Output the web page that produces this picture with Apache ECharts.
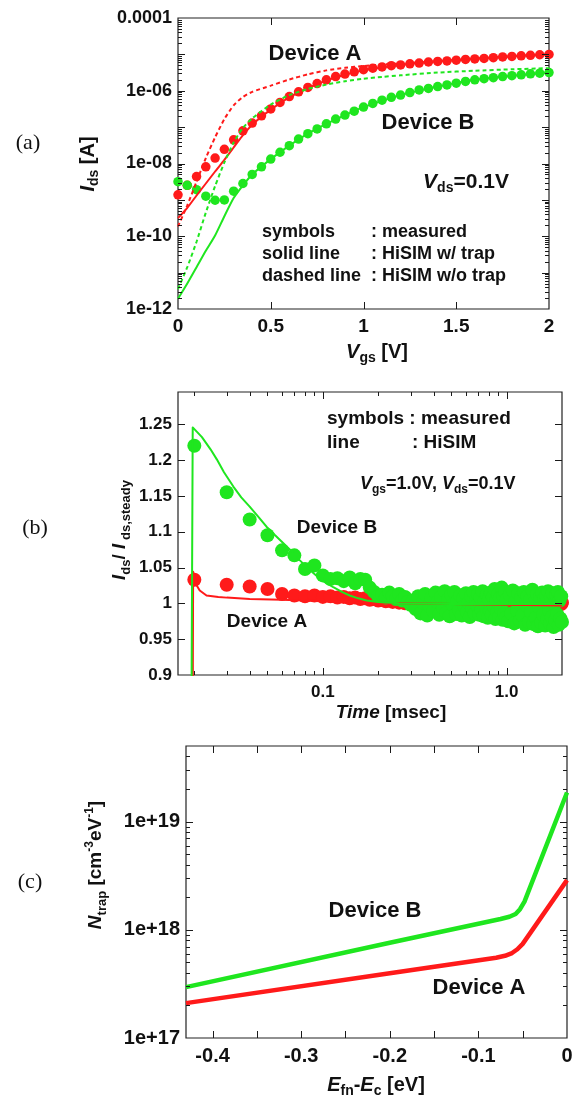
<!DOCTYPE html>
<html>
<head>
<meta charset="utf-8">
<script src="https://cdn.jsdelivr.net/npm/echarts@6/dist/echarts.min.js"></script>
<style>
  html, body { margin: 0; padding: 0; background: #fff; }
  #chart { width: 583px; height: 1097px; }
</style>
</head>
<body>
<div id="chart"></div>
<script>
// ---------- (a) Ids-Vgs characteristics, Vds = 0.1 V ----------
const vgsMeas = [0, 0.05, 0.1, 0.15, 0.2, 0.25, 0.3, 0.35, 0.4, 0.45, 0.5, 0.55, 0.6, 0.65, 0.7, 0.75,
  0.8, 0.85, 0.9, 0.95, 1.0, 1.05, 1.1, 1.15, 1.2, 1.25, 1.3, 1.35, 1.4, 1.45, 1.5, 1.55, 1.6, 1.65,
  1.7, 1.75, 1.8, 1.85, 1.9, 1.95, 2.0];
const idsMeasA = [1.38e-9, 2.51e-9, 4.37e-9, 8.13e-9, 1.41e-8, 2.45e-8, 4.47e-8, 7.94e-8, 1.29e-7,
  2.04e-7, 3.16e-7, 4.79e-7, 6.92e-7, 9.33e-7, 1.23e-6, 1.58e-6, 2.0e-6, 2.45e-6, 2.88e-6, 3.31e-6,
  3.80e-6, 4.17e-6, 4.52e-6, 4.90e-6, 5.13e-6, 5.50e-6, 5.75e-6, 6.17e-6, 6.38e-6, 6.61e-6, 6.92e-6,
  7.24e-6, 7.50e-6, 7.76e-6, 8.13e-6, 8.51e-6, 8.81e-6, 9.12e-6, 9.44e-6, 9.77e-6, 1.0e-5];
const idsMeasB = [3.16e-9, 2.51e-9, 1.91e-9, 1.26e-9, 9.77e-10, 1.0e-9, 1.74e-9, 2.82e-9, 5.01e-9,
  8.13e-9, 1.32e-8, 2.04e-8, 3.09e-8, 4.68e-8, 6.61e-8, 8.91e-8, 1.23e-7, 1.66e-7, 2.14e-7, 2.75e-7,
  3.55e-7, 4.47e-7, 5.50e-7, 6.61e-7, 7.59e-7, 8.91e-7, 1.05e-6, 1.16e-6, 1.30e-6, 1.45e-6, 1.62e-6,
  1.80e-6, 2.0e-6, 2.14e-6, 2.29e-6, 2.45e-6, 2.60e-6, 2.75e-6, 2.92e-6, 3.05e-6, 3.16e-6];

// HiSIM with trap (solid)
const vgsTrap = [0, 0.05, 0.1, 0.15, 0.2, 0.25, 0.3, 0.35, 0.4, 0.5, 0.6, 0.7, 0.8, 0.9, 1.0, 1.2, 1.4, 1.6, 1.8, 2.0];
const idsTrapA = [3.16e-10, 6.03e-10, 1.32e-9, 2.82e-9, 6.03e-9, 1.26e-8, 2.75e-8, 6.03e-8, 1.17e-7,
  3.02e-7, 6.61e-7, 1.17e-6, 1.91e-6, 2.75e-6, 3.63e-6, 5.13e-6, 6.46e-6, 7.59e-6, 8.91e-6, 1.0e-5];
const idsTrapB = [1.91e-12, 5.01e-12, 1.41e-11, 3.98e-11, 1.05e-10, 3.55e-10, 1.12e-9, 2.51e-9, 5.01e-9,
  1.32e-8, 3.09e-8, 6.61e-8, 1.23e-7, 2.14e-7, 3.55e-7, 7.59e-7, 1.30e-6, 2.0e-6, 2.60e-6, 3.16e-6];

// HiSIM without trap (dashed)
const vgsNoTrap = [0, 0.05, 0.1, 0.15, 0.2, 0.25, 0.3, 0.35, 0.4, 0.5, 0.6, 0.7, 0.8, 0.9, 1.0, 1.1, 1.2, 1.4, 1.6, 1.8, 2.0];
const idsNoTrapA = [1.86e-10, 7.08e-10, 3.16e-9, 1.41e-8, 5.25e-8, 1.66e-7, 3.98e-7, 6.76e-7, 9.33e-7,
  1.38e-6, 2.04e-6, 2.82e-6, 3.63e-6, 4.27e-6, 4.79e-6, 5.25e-6, 5.62e-6, 6.46e-6, 7.59e-6, 8.81e-6, 1.0e-5];
const idsNoTrapB = [3.55e-12, 1.41e-11, 7.08e-11, 4.47e-10, 2.40e-9, 1.07e-8, 3.80e-8, 9.55e-8, 1.74e-7,
  4.17e-7, 7.59e-7, 1.12e-6, 1.48e-6, 1.82e-6, 2.14e-6, 2.40e-6, 2.66e-6, 3.16e-6, 3.55e-6, 3.89e-6, 4.17e-6];

const vgsTickValues = [0, 0.5, 1, 1.5, 2];
const vgsTickLabels = ['0', '0.5', '1', '1.5', '2'];
const idsTickValues = [1e-12, 1e-10, 1e-8, 1e-6, 1e-4];
const idsTickLabels = ['1e-12', '1e-10', '1e-08', '1e-06', '0.0001'];

// ---------- (b) normalized transient current, Vgs = 1.0 V, Vds = 0.1 V ----------
const timeMs = [
  0.02, 0.03, 0.04, 0.05, 0.06, 0.07, 0.08, 0.09, 0.10, 0.11, 0.12, 0.13, 0.14, 0.15,
  0.16, 0.17, 0.18, 0.19, 0.20, 0.21, 0.22, 0.23, 0.24, 0.25, 0.26, 0.27, 0.28, 0.29, 0.30,
  0.31, 0.32, 0.33, 0.34, 0.35, 0.36, 0.37, 0.38, 0.39, 0.40,
  0.41, 0.42, 0.43, 0.44, 0.45, 0.46, 0.47, 0.48, 0.49, 0.50,
  0.51, 0.52, 0.53, 0.54, 0.55, 0.56, 0.57, 0.58, 0.59, 0.60,
  0.61, 0.62, 0.63, 0.64, 0.65, 0.66, 0.67, 0.68, 0.69, 0.70,
  0.71, 0.72, 0.73, 0.74, 0.75, 0.76, 0.77, 0.78, 0.79, 0.80,
  0.81, 0.82, 0.83, 0.84, 0.85, 0.86, 0.87, 0.88, 0.89, 0.90,
  0.91, 0.92, 0.93, 0.94, 0.95, 0.96, 0.97, 0.98, 0.99, 1.00,
  1.02, 1.04, 1.06, 1.08, 1.10, 1.12, 1.14, 1.16, 1.18, 1.20,
  1.22, 1.24, 1.26, 1.28, 1.30, 1.32, 1.34, 1.36, 1.38, 1.40,
  1.42, 1.44, 1.46, 1.48, 1.50, 1.52, 1.54, 1.56, 1.58, 1.60,
  1.62, 1.64, 1.66, 1.68, 1.70, 1.72, 1.74, 1.76, 1.78, 1.80,
  1.82, 1.84, 1.86, 1.88, 1.90, 1.92, 1.94, 1.96, 1.98, 2.00];
const ratioMeasA = [
  1.033, 1.026, 1.0235, 1.020, 1.013, 1.011, 1.010, 1.011, 1.009, 1.010, 1.008, 1.009, 1.007, 1.008,
  1.006, 1.007, 1.005, 1.006, 1.004, 1.005, 1.003, 1.004, 1.002, 1.004, 1.001, 1.003, 1.000, 1.002, 0.999,
  1.001, 0.998, 1.002, 0.999, 1.003, 0.997, 1.000, 1.002, 0.996, 1.001,
  0.999, 1.003, 0.997, 1.000, 0.995, 1.002, 0.998, 1.001, 0.996, 1.003,
  0.999, 0.997, 1.001, 0.995, 1.002, 0.998, 1.000, 0.996, 1.003, 0.999,
  0.997, 1.001, 0.995, 1.002, 0.998, 1.000, 0.996, 1.002, 0.999, 0.997,
  1.001, 0.995, 1.003, 0.998, 1.000, 0.996, 1.002, 0.999, 0.997, 1.001,
  0.995, 1.002, 0.998, 1.000, 0.996, 1.003, 0.999, 0.997, 1.001, 0.995,
  1.002, 0.998, 1.000, 0.996, 1.002, 0.999, 0.997, 1.001, 0.998, 1.002,
  0.998, 1.001, 0.996, 1.002, 0.999, 0.997, 1.003, 0.998, 1.000, 0.995,
  1.002, 0.999, 0.997, 1.001, 0.996, 1.003, 0.998, 1.000, 0.997, 1.002,
  0.999, 0.995, 1.001, 0.998, 1.003, 0.997, 1.000, 0.996, 1.002, 0.999,
  0.997, 1.001, 0.998, 1.003, 0.996, 1.000, 0.999, 1.002, 0.997, 1.001,
  0.998, 1.003, 0.999, 0.996, 1.001, 0.998, 1.002, 1.000, 0.999, 1.001];
const ratioMeasB = [
  1.220, 1.155, 1.117, 1.095, 1.074, 1.067, 1.048, 1.053, 1.039, 1.034, 1.035, 1.031, 1.036, 1.028,
  1.034, 1.033, 1.022, 1.016, 1.010, 1.012, 1.008, 1.015, 1.010, 1.006, 1.013, 1.004, 1.009, 1.002, 0.998,
  1.004, 0.992, 1.010, 0.986, 1.001, 1.013, 0.983, 0.997, 1.008, 0.989,
  1.015, 1.002, 0.984, 1.009, 0.994, 1.017, 0.987, 1.005, 0.982, 1.012,
  0.998, 1.016, 0.985, 1.003, 0.991, 1.011, 0.983, 1.007, 0.996, 1.014,
  0.988, 1.001, 0.981, 1.010, 0.993, 1.016, 0.986, 1.005, 0.997, 1.013,
  0.984, 1.008, 0.991, 1.017, 0.982, 1.003, 0.995, 1.012, 0.980, 1.006,
  0.990, 1.015, 0.984, 1.009, 0.996, 1.020, 0.978, 1.004, 0.988, 1.013,
  0.981, 1.007, 0.993, 1.022, 0.977, 1.010, 0.986, 1.016, 0.980, 1.005,
  0.975, 1.012, 0.986, 1.018, 0.972, 1.003, 0.990, 1.014, 0.976, 1.008,
  0.983, 1.016, 0.970, 0.997, 1.010, 0.974, 1.005, 0.988, 1.019, 0.971,
  1.002, 0.980, 1.013, 0.968, 0.995, 1.009, 0.973, 1.015, 0.984, 1.006,
  0.969, 1.011, 0.978, 1.017, 0.990, 0.972, 1.008, 0.981, 1.014, 0.967,
  1.000, 0.976, 1.012, 0.985, 1.016, 0.970, 1.004, 0.979, 1.010, 0.974];

// HiSIM transient (lines)
const timeSimA = [0.0196, 0.0197, 0.0205, 0.0214, 0.0233, 0.027, 0.03, 0.04, 0.06, 0.1, 0.2, 0.4, 1.0, 2.0];
const ratioSimA = [0.85, 1.044, 1.026, 1.018, 1.011, 1.009, 1.008, 1.006, 1.005, 1.003, 1.001, 0.9995, 0.998, 0.997];
const timeSimB = [0.0193, 0.0196, 0.022, 0.0245, 0.0265, 0.029, 0.0326, 0.036, 0.04, 0.0445, 0.0494,
  0.055, 0.061, 0.068, 0.075, 0.083, 0.092, 0.102, 0.114, 0.127, 0.14, 0.156, 0.173, 0.2, 0.26,
  0.5, 1.0, 2.0];
const ratioSimB = [0.85, 1.2456, 1.232, 1.215, 1.201, 1.183, 1.163, 1.148, 1.135, 1.121, 1.107,
  1.095, 1.084, 1.072, 1.060, 1.049, 1.039, 1.030, 1.0225, 1.016, 1.011, 1.007, 1.004, 1.002, 1.0,
  0.999, 0.999, 0.999];

const timeTickValues = [0.1, 1];
const timeTickLabels = ['0.1', '1.0'];
const ratioTickValues = [0.9, 0.95, 1, 1.05, 1.1, 1.15, 1.2, 1.25];
const ratioTickLabels = ['0.9', '0.95', '1', '1.05', '1.1', '1.15', '1.2', '1.25'];

// ---------- (c) extracted trap density ----------
const efnA = [-0.43, -0.2, -0.08, -0.07, -0.062, -0.056, -0.05, 0];
const ntrapA = [2.10e17, 3.96e17, 5.52e17, 5.75e17, 6.10e17, 6.61e17, 7.41e17, 2.88e18];
const efnB = [-0.43, -0.2, -0.075, -0.065, -0.058, -0.053, -0.048, 0];
const ntrapB = [2.95e17, 7.59e17, 1.26e18, 1.32e18, 1.40e18, 1.55e18, 1.82e18, 1.86e19];

const efnTickValues = [-0.4, -0.3, -0.2, -0.1, 0];
const efnTickLabels = ['-0.4', '-0.3', '-0.2', '-0.1', '0'];
const ntrapTickValues = [1e17, 1e18, 1e19];
const ntrapTickLabels = ['1e+17', '1e+18', '1e+19'];

// ---------- styling ----------
const FONT = '"Liberation Sans", Arial, Helvetica, sans-serif';
const SERIF = '"Liberation Serif", "Times New Roman", serif';
const RED = '#ff1a1a';
const GREEN = '#1fe61f';
const INK = '#111111';

function labelFor(values, labels) {
  return function (v) {
    for (let i = 0; i < values.length; i++) {
      if (values[i] === v || Math.abs(values[i] - v) <= Math.abs(values[i]) * 1e-6) return labels[i];
    }
    return '';
  };
}

function axisLabel(values, labels, size, margin) {
  return {
    customValues: values,
    formatter: labelFor(values, labels),
    color: INK, fontSize: size, fontWeight: 'bold', fontFamily: FONT, margin: margin
  };
}

function baseAxis(extra) {
  return Object.assign({
    axisLine: { show: false },
    axisTick: { show: false },
    splitLine: { show: false },
    minorTick: { show: false },
    minorSplitLine: { show: false }
  }, extra);
}

const pairs = (xs, ys) => xs.map((x, i) => [x, ys[i]]);

// inward tick marks on all four sides of a grid, drawn through the axes' scales
function logMinors(fromExp, toExp, maxVal) {
  const out = [];
  for (let e = fromExp; e <= toExp; e++) {
    for (let m = 2; m <= 9; m++) {
      const v = m * Math.pow(10, e);
      if (v < maxVal) out.push(v);
    }
  }
  return out;
}

function tickSeries(g, xRef, yRef, xMajor, xMinor, yMajor, yMinor) {
  const data = [];
  xMajor.forEach(v => data.push([v, yRef, 0, 7]));
  xMinor.forEach(v => data.push([v, yRef, 0, 4]));
  yMajor.forEach(v => data.push([xRef, v, 1, 7]));
  yMinor.forEach(v => data.push([xRef, v, 1, 4]));
  return {
    type: 'custom', xAxisIndex: g, yAxisIndex: g, silent: true, z: 10,
    encode: { x: 0, y: 1 },
    data: data,
    renderItem: function (params, api) {
      const cs = params.coordSys;
      const p = api.coord([api.value(0), api.value(1)]);
      const len = api.value(3);
      const st = { stroke: '#1a1a1a', lineWidth: 1 };
      if (api.value(2) === 0) {
        const x = Math.round(p[0]) + 0.5;
        return { type: 'group', children: [
          { type: 'line', shape: { x1: x, y1: cs.y + cs.height, x2: x, y2: cs.y + cs.height - len }, style: st },
          { type: 'line', shape: { x1: x, y1: cs.y, x2: x, y2: cs.y + len }, style: st }
        ] };
      }
      const y = Math.round(p[1]) + 0.5;
      return { type: 'group', children: [
        { type: 'line', shape: { x1: cs.x, y1: y, x2: cs.x + len, y2: y }, style: st },
        { type: 'line', shape: { x1: cs.x + cs.width, y1: y, x2: cs.x + cs.width - len, y2: y }, style: st }
      ] };
    }
  };
}

// rich-text pieces for the axis titles and annotations
function richStyles(size) {
  const sub = Math.round(size * 0.68);
  const base = { fontFamily: FONT, fontWeight: 'bold', fill: INK, fontSize: size, lineHeight: size + 6, verticalAlign: 'middle' };
  return {
    n: base,
    i: Object.assign({}, base, { fontStyle: 'italic' }),
    s: Object.assign({}, base, { fontSize: sub, lineHeight: sub - 2, verticalAlign: 'bottom' }),
    u: Object.assign({}, base, { fontSize: sub - 1, lineHeight: sub - 1, verticalAlign: 'top' })
  };
}

function rtext(x, y, text, size, align, rotation) {
  return {
    type: 'text', x: x, y: y, rotation: rotation || 0, silent: true, z: 20,
    style: {
      text: text, rich: richStyles(size), fill: INK,
      fontFamily: FONT, fontWeight: 'bold', fontSize: size,
      align: align || 'center', verticalAlign: 'middle'
    }
  };
}

function ptext(x, y, text) {
  return {
    type: 'text', x: x, y: y, silent: true, z: 20,
    style: { text: text, fill: INK, fontFamily: SERIF, fontSize: 22, align: 'center', verticalAlign: 'middle' }
  };
}

function dots(g, xs, ys, color, size) {
  return {
    type: 'scatter', xAxisIndex: g, yAxisIndex: g, data: pairs(xs, ys), symbolSize: size,
    itemStyle: { color: color, opacity: 1 }, emphasis: { disabled: true }
  };
}

function curve(g, xs, ys, color, width, extra) {
  return Object.assign({
    type: 'line', xAxisIndex: g, yAxisIndex: g, data: pairs(xs, ys),
    showSymbol: false, symbol: 'none',
    lineStyle: { color: color, width: width, join: 'round' }, emphasis: { disabled: true }
  }, extra || {});
}

const option = {
  animation: false,
  backgroundColor: '#ffffff',
  textStyle: { fontFamily: FONT },
  grid: [
    { left: 178, top: 18, width: 371, height: 291, show: true, borderColor: '#222', borderWidth: 1.2 },
    { left: 178, top: 392, width: 384, height: 283, show: true, borderColor: '#222', borderWidth: 1.2 },
    { left: 186, top: 746, width: 381, height: 292, show: true, borderColor: '#222', borderWidth: 1.2 }
  ],
  xAxis: [
    baseAxis({ gridIndex: 0, type: 'value', min: 0, max: 2, axisLabel: axisLabel(vgsTickValues, vgsTickLabels, 19, 8) }),
    baseAxis({ gridIndex: 1, type: 'log', logBase: 10, min: 0.0163, max: 2, axisLabel: axisLabel(timeTickValues, timeTickLabels, 17, 9) }),
    baseAxis({ gridIndex: 2, type: 'value', min: -0.43, max: 0, axisLabel: axisLabel(efnTickValues, efnTickLabels, 20, 8) })
  ],
  yAxis: [
    baseAxis({ gridIndex: 0, type: 'log', logBase: 10, min: 1e-12, max: 1e-4, axisLabel: axisLabel(idsTickValues, idsTickLabels, 18, 6) }),
    baseAxis({ gridIndex: 1, type: 'value', min: 0.9, max: 1.295, axisLabel: axisLabel(ratioTickValues, ratioTickLabels, 17, 6) }),
    baseAxis({ gridIndex: 2, type: 'log', logBase: 10, min: 1e17, max: 5e19, axisLabel: axisLabel(ntrapTickValues, ntrapTickLabels, 20, 6) })
  ],
  graphic: [
    ptext(28, 143, '(a)'), ptext(35, 528, '(b)'), ptext(30, 882, '(c)'),
    // axis titles
    rtext(88, 164, '{i|I}{s|ds}{n| [A]}', 20, 'center', Math.PI / 2),
    rtext(377, 352, '{i|V}{s|gs}{n| [V]}', 20, 'center'),
    rtext(120, 530, '{i|I}{s|ds}{n|/ }{i|I}{s| ds,steady}', 19, 'center', Math.PI / 2),
    rtext(391, 713, '{i|Time}{n| [msec]}', 19, 'center'),
    rtext(96, 865, '{i|N}{s|trap}{n| [cm}{u|-3}{n|eV}{u|-1}{n|]}', 19, 'center', Math.PI / 2),
    rtext(376, 1085, '{i|E}{s|fn}{n|-}{i|E}{s|c}{n| [eV]}', 20, 'center'),
    // panel (a) annotations
    rtext(315, 54, 'Device A', 22, 'center'),
    rtext(428, 123, 'Device B', 22, 'center'),
    rtext(466, 182, '{i|V}{s|ds}{n|=0.1V}', 21, 'center'),
    rtext(262, 232, 'symbols', 18, 'left'),
    rtext(371, 232, ': measured', 18, 'left'),
    rtext(262, 254, 'solid line', 18, 'left'),
    rtext(371, 254, ': HiSIM w/ trap', 18, 'left'),
    rtext(262, 276, 'dashed line', 18, 'left'),
    rtext(371, 276, ': HiSIM w/o trap', 18, 'left'),
    // panel (b) annotations
    rtext(327, 419, 'symbols : measured', 19, 'left'),
    rtext(327, 443, 'line', 19, 'left'),
    rtext(412, 443, ': HiSIM', 19, 'left'),
    rtext(360, 484, '{i|V}{s|gs}{n|=1.0V, }{i|V}{s|ds}{n|=0.1V}', 18, 'left'),
    rtext(337, 528, 'Device B', 19, 'center'),
    rtext(267, 622, 'Device A', 19, 'center'),
    // panel (c) annotations
    rtext(375, 911, 'Device B', 22, 'center'),
    rtext(479, 988, 'Device A', 22, 'center')
  ],
  series: [
    // (a) measured symbols, then HiSIM curves
    dots(0, vgsMeas, idsMeasA, RED, 9.5),
    dots(0, vgsMeas, idsMeasB, GREEN, 9.5),
    curve(0, vgsTrap, idsTrapA, RED, 2, { smooth: 0.2 }),
    curve(0, vgsTrap, idsTrapB, GREEN, 2, { smooth: 0.2 }),
    curve(0, vgsNoTrap, idsNoTrapA, RED, 2, { smooth: 0.2, lineStyle: { color: RED, width: 2, type: [4, 3] } }),
    curve(0, vgsNoTrap, idsNoTrapB, GREEN, 2, { smooth: 0.2, lineStyle: { color: GREEN, width: 2, type: [4, 3] } }),
    // (b)
    dots(1, timeMs, ratioMeasA, RED, 14),
    curve(1, timeSimA, ratioSimA, RED, 2),
    dots(1, timeMs, ratioMeasB, GREEN, 14),
    curve(1, timeSimB, ratioSimB, GREEN, 2),
    // (c)
    curve(2, efnA, ntrapA, RED, 4.5),
    curve(2, efnB, ntrapB, GREEN, 4.5),
    // tick marks
    tickSeries(0, 0, 1e-12, [0.5, 1, 1.5], [],
      [1e-11, 1e-10, 1e-9, 1e-8, 1e-7, 1e-6, 1e-5], logMinors(-12, -5, 1e-4)),
    tickSeries(1, 0.0163, 0.9, [0.1, 1],
      [0.02, 0.03, 0.04, 0.05, 0.06, 0.07, 0.08, 0.09, 0.2, 0.3, 0.4, 0.5, 0.6, 0.7, 0.8, 0.9],
      [0.95, 1, 1.05, 1.1, 1.15, 1.2, 1.25], []),
    tickSeries(2, -0.43, 1e17, [-0.4, -0.35, -0.3, -0.25, -0.2, -0.15, -0.1, -0.05], [],
      [1e18, 1e19], logMinors(17, 19, 5e19))
  ]
};

const chart = echarts.init(document.getElementById('chart'), null, { renderer: 'canvas' });
chart.setOption(option);
</script>
</body>
</html>
